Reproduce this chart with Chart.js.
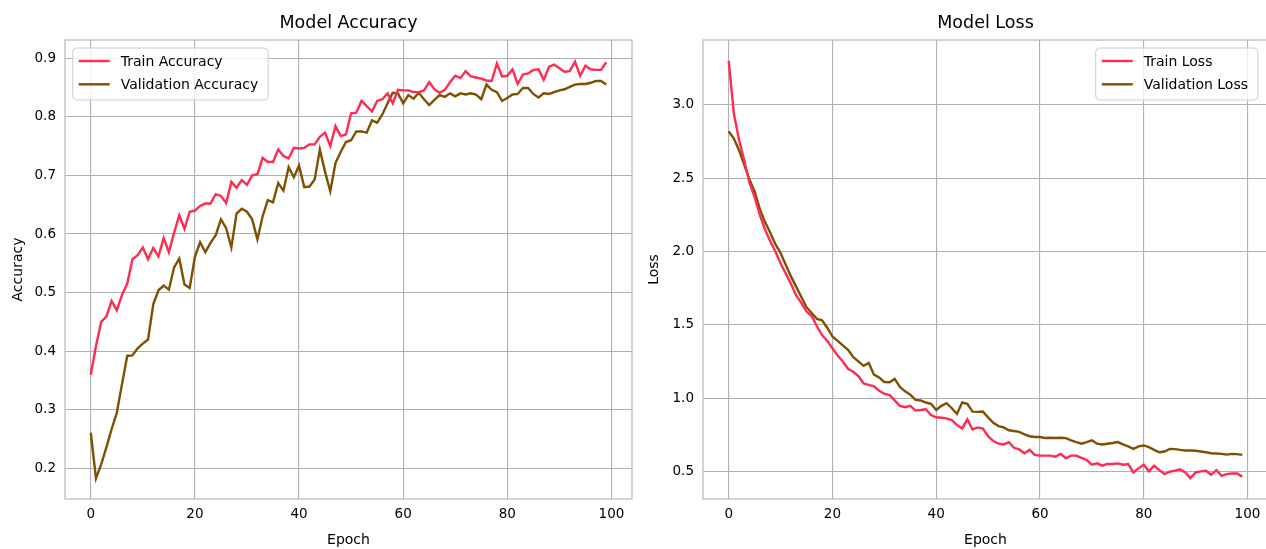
<!DOCTYPE html>
<html><head><meta charset="utf-8">
<script src="https://cdn.jsdelivr.net/npm/chart.js@4/dist/chart.umd.min.js"></script>
<style>
html,body{margin:0;padding:0;background:#fff;overflow:hidden;width:1266px;height:549px;}
.box{position:absolute;top:0;height:549px;}
</style></head><body>
<div class="box" style="left:0;width:640px"><canvas id="c1" width="640" height="549"></canvas></div>
<div class="box" style="left:640px;width:628px"><canvas id="c2" width="628" height="549"></canvas></div>
<script>
// ---- data ----
const epochs = Array.from({length: 100}, (_, i) => i);
const xTicks = [0, 20, 40, 60, 80, 100];
const accTicks = [0.2, 0.3, 0.4, 0.5, 0.6, 0.7, 0.8, 0.9];
const lossTicks = [0.5, 1.0, 1.5, 2.0, 2.5, 3.0];

const trainAcc = [0.360,0.409,0.450,0.459,0.486,0.470,0.496,0.515,0.557,0.564,0.577,0.557,0.576,0.562,0.593,0.569,0.602,0.632,0.609,0.638,
0.640,0.648,0.652,0.652,0.668,0.665,0.653,0.689,0.679,0.692,0.684,0.700,0.702,0.730,0.723,0.723,0.744,0.733,0.729,0.747,
0.746,0.747,0.753,0.753,0.766,0.773,0.750,0.784,0.767,0.770,0.806,0.807,0.827,0.818,0.809,0.827,0.830,0.840,0.823,0.846,
0.845,0.845,0.842,0.842,0.845,0.859,0.847,0.841,0.846,0.859,0.870,0.866,0.878,0.869,0.867,0.865,0.862,0.861,0.891,0.869,
0.870,0.881,0.856,0.872,0.874,0.880,0.881,0.863,0.885,0.889,0.883,0.877,0.878,0.894,0.870,0.887,0.881,0.880,0.880,0.893];

const valAcc = [0.261,0.183,0.207,0.236,0.267,0.295,0.344,0.392,0.393,0.405,0.413,0.420,0.480,0.504,0.512,0.505,0.543,0.558,0.514,0.508,
0.561,0.586,0.569,0.585,0.598,0.625,0.610,0.577,0.635,0.643,0.638,0.625,0.591,0.630,0.658,0.654,0.687,0.674,0.714,0.697,
0.717,0.680,0.681,0.693,0.744,0.706,0.673,0.721,0.740,0.757,0.760,0.775,0.775,0.773,0.794,0.790,0.804,0.823,0.841,0.840,
0.823,0.837,0.831,0.841,0.830,0.820,0.829,0.837,0.834,0.840,0.835,0.840,0.838,0.840,0.838,0.830,0.855,0.846,0.842,0.827,
0.832,0.838,0.839,0.849,0.849,0.839,0.833,0.840,0.839,0.842,0.845,0.847,0.851,0.855,0.856,0.856,0.858,0.861,0.861,0.855];

const trainLoss = [3.30,2.94,2.76,2.62,2.47,2.37,2.25,2.15,2.07,2.00,1.92,1.85,1.78,1.70,1.65,1.59,1.56,1.49,1.43,1.39,
1.34,1.29,1.25,1.20,1.18,1.15,1.10,1.09,1.08,1.05,1.03,1.02,0.985,0.947,0.938,0.947,0.915,0.919,0.924,0.885,
0.869,0.866,0.862,0.850,0.816,0.793,0.855,0.786,0.800,0.793,0.740,0.707,0.689,0.684,0.700,0.661,0.650,0.624,0.647,0.613,
0.608,0.608,0.608,0.601,0.620,0.590,0.608,0.608,0.592,0.578,0.546,0.555,0.539,0.551,0.551,0.555,0.546,0.551,0.493,0.521,
0.546,0.500,0.539,0.509,0.482,0.498,0.505,0.514,0.493,0.454,0.493,0.500,0.505,0.477,0.509,0.470,0.482,0.486,0.486,0.463];

const valLoss = [2.82,2.77,2.69,2.59,2.49,2.41,2.29,2.20,2.13,2.05,1.99,1.91,1.83,1.76,1.69,1.62,1.58,1.54,1.53,1.48,
1.42,1.39,1.36,1.33,1.28,1.25,1.22,1.24,1.16,1.14,1.11,1.108,1.131,1.076,1.046,1.023,0.988,0.984,0.970,0.961,
0.919,0.947,0.965,0.931,0.892,0.970,0.961,0.908,0.906,0.908,0.869,0.832,0.809,0.800,0.781,0.776,0.770,0.753,0.740,0.735,
0.735,0.728,0.730,0.728,0.730,0.727,0.712,0.700,0.689,0.700,0.712,0.689,0.684,0.689,0.694,0.700,0.684,0.671,0.654,0.671,
0.677,0.666,0.647,0.631,0.636,0.654,0.652,0.647,0.643,0.643,0.641,0.636,0.631,0.624,0.622,0.620,0.615,0.620,0.618,0.613];

const TRAIN_COLOR = '#ff2b50';
const VAL_COLOR = '#7f5000';
const FONT = "'DejaVu Sans', sans-serif";

Chart.defaults.font.family = FONT;
Chart.defaults.color = '#000';

// title + frame + legend drawn relative to chart area
const decor = {
  id: 'decor',
  afterDatasetsDraw(chart, args, opts) {
    const ctx = chart.ctx, a = chart.chartArea;
    ctx.save();
    // frame
    ctx.strokeStyle = '#b8b8b8';
    ctx.lineWidth = 1.2;
    ctx.strokeRect(a.left, a.top, a.right - a.left, a.bottom - a.top);
    // title
    ctx.fillStyle = '#000';
    ctx.font = "17.5px " + FONT;
    ctx.textAlign = 'center';
    ctx.textBaseline = 'middle';
    ctx.fillText(opts.title, (a.left + a.right) / 2, 23);
    // legend
    ctx.font = "14px " + FONT;
    const ds = chart.data.datasets;
    let tw = 0;
    ds.forEach(d => { tw = Math.max(tw, ctx.measureText(d.label).width); });
    const w = 48 + tw + 10, h = 52;
    const x0 = opts.side === 'left' ? a.left + opts.inset : a.right - opts.inset - w;
    const y0 = a.top + 8;
    const r = 4;
    ctx.beginPath();
    ctx.moveTo(x0 + r, y0);
    ctx.arcTo(x0 + w, y0, x0 + w, y0 + h, r);
    ctx.arcTo(x0 + w, y0 + h, x0, y0 + h, r);
    ctx.arcTo(x0, y0 + h, x0, y0, r);
    ctx.arcTo(x0, y0, x0 + w, y0, r);
    ctx.closePath();
    ctx.fillStyle = 'rgba(255,255,255,0.8)';
    ctx.fill();
    ctx.strokeStyle = '#cccccc';
    ctx.lineWidth = 1;
    ctx.stroke();
    ds.forEach((d, i) => {
      const yy = y0 + 13 + i * 23.3;
      ctx.strokeStyle = d.borderColor;
      ctx.lineWidth = 2.4;
      ctx.beginPath();
      ctx.moveTo(x0 + 6, yy);
      ctx.lineTo(x0 + 37, yy);
      ctx.stroke();
      ctx.fillStyle = '#000';
      ctx.textAlign = 'left';
      ctx.textBaseline = 'middle';
      ctx.fillText(d.label, x0 + 48, yy + 1);
    });
    ctx.restore();
  }
};

function makeChart(id, labels, series, names, yMin, yMax, yTicks, yTitle, yWidth, yTitlePad, padRight, title, side, inset) {
  return new Chart(document.getElementById(id), {
    type: 'line',
    data: {
      labels: labels,
      datasets: series.map((s, i) => ({
        label: names[i],
        data: s,
        borderColor: i === 0 ? TRAIN_COLOR : VAL_COLOR,
        backgroundColor: i === 0 ? TRAIN_COLOR : VAL_COLOR,
        borderWidth: 2.4,
        pointRadius: 0,
        tension: 0,
        fill: false
      }))
    },
    options: {
      responsive: false,
      animation: false,
      devicePixelRatio: 1,
      layout: { padding: { top: 40, right: padRight, left: 0, bottom: 0 } },
      plugins: {
        legend: { display: false },
        tooltip: { enabled: false },
        title: { display: false },
        decor: { title: title, side: side, inset: inset }
      },
      scales: {
        x: {
          type: 'linear', min: -4.95, max: 103.95,
          afterBuildTicks: ax => { ax.ticks = xTicks.map(v => ({ value: v })); },
          afterFit: s => { s.height = 50; },
          ticks: { font: { size: 13.5 }, color: '#000', padding: 7, maxRotation: 0, autoSkip: false },
          grid: { color: '#b0b0b0', lineWidth: 1.1, drawTicks: false },
          border: { display: false },
          title: { display: true, text: 'Epoch', font: { size: 14 }, color: '#000', padding: { top: 0, bottom: 0 } }
        },
        y: {
          min: yMin, max: yMax,
          afterBuildTicks: ax => { ax.ticks = yTicks.map(v => ({ value: v })); },
          afterFit: s => { s.width = yWidth; },
          ticks: { font: { size: 13.5 }, color: '#000', padding: 9, autoSkip: false, callback: v => Number(v).toFixed(1) },
          grid: { color: '#b0b0b0', lineWidth: 1.1, drawTicks: false },
          border: { display: false },
          title: { display: true, text: yTitle, font: { size: 14 }, color: '#000', padding: { top: yTitlePad, bottom: 0 } }
        }
      }
    },
    plugins: [decor]
  });
}

makeChart('c1', epochs, [trainAcc, valAcc], ['Train Accuracy', 'Validation Accuracy'],
  0.148, 0.931, accTicks, 'Accuracy', 65, 10, 8, 'Model Accuracy', 'left', 7.7);
makeChart('c2', epochs, [trainLoss, valLoss], ['Train Loss', 'Validation Loss'],
  0.312, 3.442, lossTicks, 'Loss', 63, 6, 0, 'Model Loss', 'right', 10);
</script>
</body></html>
